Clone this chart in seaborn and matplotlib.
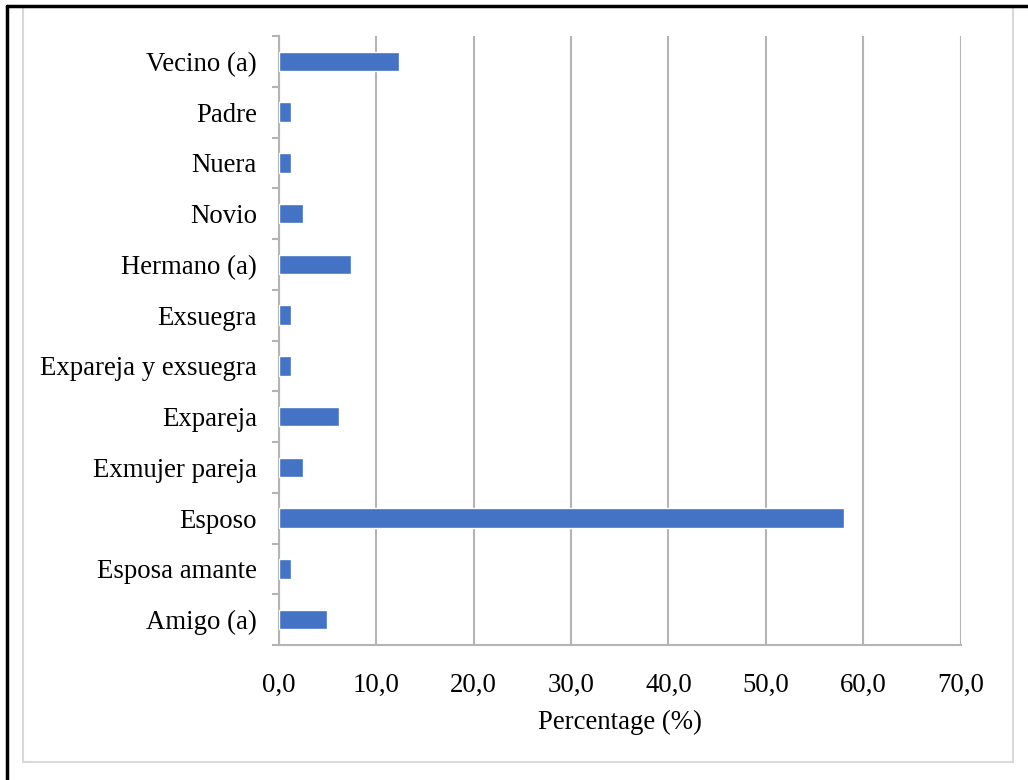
import matplotlib
matplotlib.use("Agg")
import matplotlib.pyplot as plt
import seaborn as sns
import pandas as pd
from matplotlib.ticker import FuncFormatter, FixedLocator, MultipleLocator
from matplotlib.lines import Line2D
from matplotlib.patches import Rectangle

categories = ["Vecino (a)", "Padre", "Nuera", "Novio", "Hermano (a)", "Exsuegra",
              "Expareja y exsuegra", "Expareja", "Exmujer pareja", "Esposo",
              "Esposa amante", "Amigo (a)"]
percentages = [12.3, 1.2, 1.2, 2.5, 7.4, 1.2, 1.2, 6.2, 2.5, 58.0, 1.2, 4.9]
x_label = "Percentage (%)"

df = pd.DataFrame({"cat": categories, "pct": percentages})

sns.set_theme(style="white")
plt.rcParams["font.family"] = ["Liberation Serif", "DejaVu Serif"]

W, H = 1028, 780
fig = plt.figure(figsize=(W / 100, H / 100), dpi=100)
ax = fig.add_axes([279 / W, 1 - 645 / H, (960.5 - 279) / W, (645 - 36) / H])

grid_c = "#b4b4b4"
sns.barplot(data=df, x="pct", y="cat", order=categories, orient="h",
            color="#4472C4", saturation=1, width=0.38, ax=ax, zorder=3)

ax.set_xlim(0, 70)
ax.set_ylim(len(categories) - 0.5, -0.5)
ax.xaxis.set_major_locator(MultipleLocator(10))
ax.xaxis.set_major_formatter(FuncFormatter(lambda v, p: f"{v:.1f}".replace(".", ",")))
ax.grid(axis="x", color=grid_c, linewidth=1.5, zorder=0)
ax.grid(axis="y", visible=False)

for s in ["top", "right"]:
    ax.spines[s].set_visible(False)
for s in ["left", "bottom"]:
    ax.spines[s].set_color(grid_c)
    ax.spines[s].set_linewidth(1.5)

ax.yaxis.set_minor_locator(FixedLocator([i - 0.5 for i in range(len(categories) + 1)]))
ax.tick_params(axis="y", which="major", length=0, pad=16, labelsize=19.3, labelcolor="black")
ax.tick_params(axis="y", which="minor", left=True, length=5, width=1.5, color=grid_c)
ax.tick_params(axis="x", which="both", bottom=False, top=False)
ax.tick_params(axis="x", which="major", length=0, pad=20, labelsize=19.3, labelcolor="black")

ax.set_ylabel("")
ax.set_xlabel(x_label, fontsize=19.3, color="black", labelpad=9)

# frame decorations
fig.add_artist(Rectangle((23 / W, 1 - 762 / H), (1013 - 23) / W, (762 - 7) / H,
                         transform=fig.transFigure, fill=False, edgecolor="#d9d9d9",
                         linewidth=1.5))
fig.add_artist(Line2D([7 / W, 1.0], [1 - 5.5 / H, 1 - 5.5 / H], transform=fig.transFigure,
                      color="black", linewidth=2.5))
fig.add_artist(Line2D([7 / W, 7 / W], [0, 1 - 5.5 / H], transform=fig.transFigure,
                      color="black", linewidth=2.5))

fig.savefig("out.png", dpi=100)
